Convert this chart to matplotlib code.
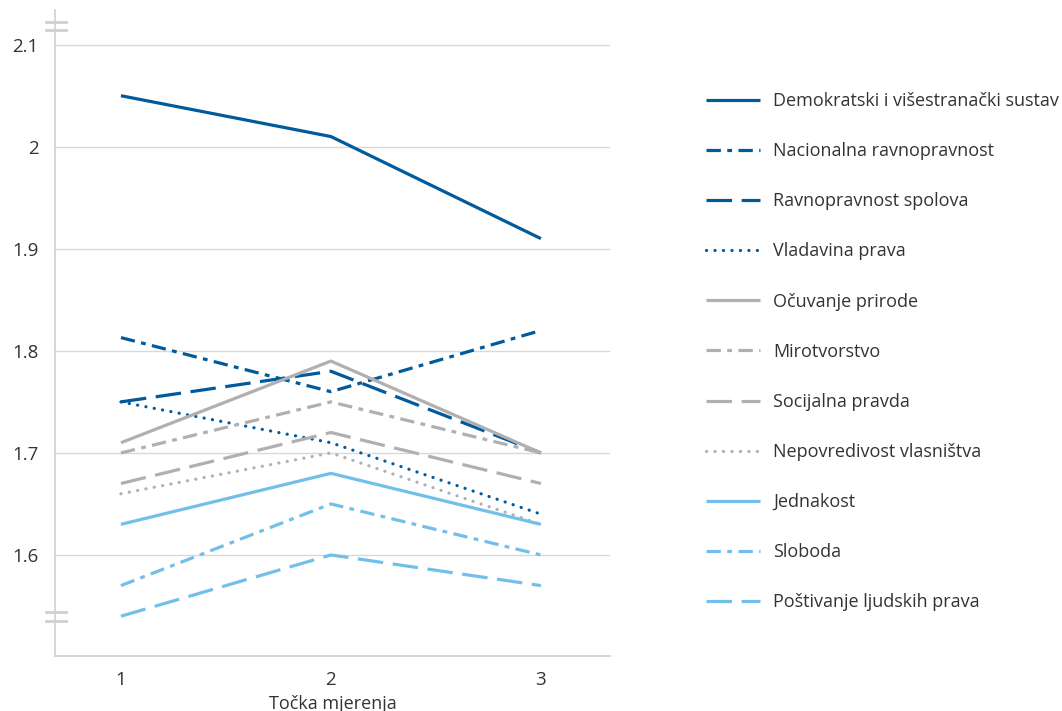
import matplotlib.pyplot as plt

plt.rcParams['font.family'] = ['Open Sans', 'DejaVu Sans']

# measurement points
points = [1, 2, 3]

labels = [
    'Demokratski i višestranački sustav',
    'Nacionalna ravnopravnost',
    'Ravnopravnost spolova',
    'Vladavina prava',
    'Očuvanje prirode',
    'Mirotvorstvo',
    'Socijalna pravda',
    'Nepovredivost vlasništva',
    'Jednakost',
    'Sloboda',
    'Poštivanje ljudskih prava',
]

demokratski = [2.05, 2.01, 1.91]
nacionalna = [1.813, 1.76, 1.82]
spolova = [1.75, 1.78, 1.70]
vladavina = [1.75, 1.71, 1.64]
priroda = [1.71, 1.79, 1.70]
mirotvorstvo = [1.70, 1.75, 1.70]
socijalna = [1.67, 1.72, 1.67]
vlasnistvo = [1.66, 1.70, 1.63]
jednakost = [1.63, 1.68, 1.63]
sloboda = [1.57, 1.65, 1.60]
ljudska_prava = [1.54, 1.60, 1.57]

series = [demokratski, nacionalna, spolova, vladavina, priroda, mirotvorstvo,
          socijalna, vlasnistvo, jednakost, sloboda, ljudska_prava]

yticks = [1.6, 1.7, 1.8, 1.9, 2.0, 2.1]
ytick_labels = ['1.6', '1.7', '1.8', '1.9', '2', '2.1']

dark = '#005a9b'
grey = '#b0b0b2'
light = '#72bfea'
colors = [dark, dark, dark, dark, grey, grey, grey, grey, light, light, light]

solid = None
dashdot = (4.5, 2, 1.5, 2)
longdash = (8, 3)
dotted = (0.05, 2.6)
styles = [solid, dashdot, longdash, dotted,
          solid, dashdot, longdash, dotted,
          solid, dashdot, longdash]

fig = plt.figure(figsize=(10.62, 7.11), dpi=100)
ax = fig.add_axes([55 / 1062, 55 / 711, 555 / 1062, 646 / 711])

for vals, lab, col, st in zip(series, labels, colors, styles):
    line, = ax.plot(points, vals, color=col, lw=2.3, label=lab,
                    solid_capstyle='butt')
    if st is not None:
        line.set_dashes(st)
        if st == dotted:
            line.set_dash_capstyle('round')
        else:
            line.set_dash_capstyle('butt')

ax.set_xlim(0.686, 3.329)
ax.set_ylim(1.501, 2.134)
ax.set_xticks(points)
ax.set_yticks(yticks)
ax.set_yticklabels(ytick_labels)
ax.tick_params(axis='both', length=0, labelsize=13.5, colors='#333333')
ax.tick_params(axis='y', pad=12)
ax.tick_params(axis='x', pad=11)
ax.grid(axis='y', color='#d9d9d9', lw=1)
ax.set_axisbelow(True)
for s in ['top', 'right']:
    ax.spines[s].set_visible(False)
for s in ['left', 'bottom']:
    ax.spines[s].set_color('#d0d0d0')
    ax.spines[s].set_linewidth(1.2)

ax.set_xlabel('Točka mjerenja', fontsize=13, color='#333333', labelpad=4)

# axis break marks
tr = ax.get_yaxis_transform()
for yv in [2.1225, 2.1145, 1.544, 1.5355]:
    ax.plot([-0.017, 0.02], [yv, yv], color='#d0d0d0', lw=2,
            transform=tr, clip_on=False)

leg = ax.legend(loc='upper left', bbox_to_anchor=(706 / 1062, 1 - 92 / 711),
                bbox_transform=fig.transFigure, frameon=False, fontsize=13,
                handlelength=3.0, handletextpad=0.72, labelspacing=1.78,
                borderpad=0, borderaxespad=0)
for t in leg.get_texts():
    t.set_color('#333333')

fig.savefig('out.png', dpi=100)
